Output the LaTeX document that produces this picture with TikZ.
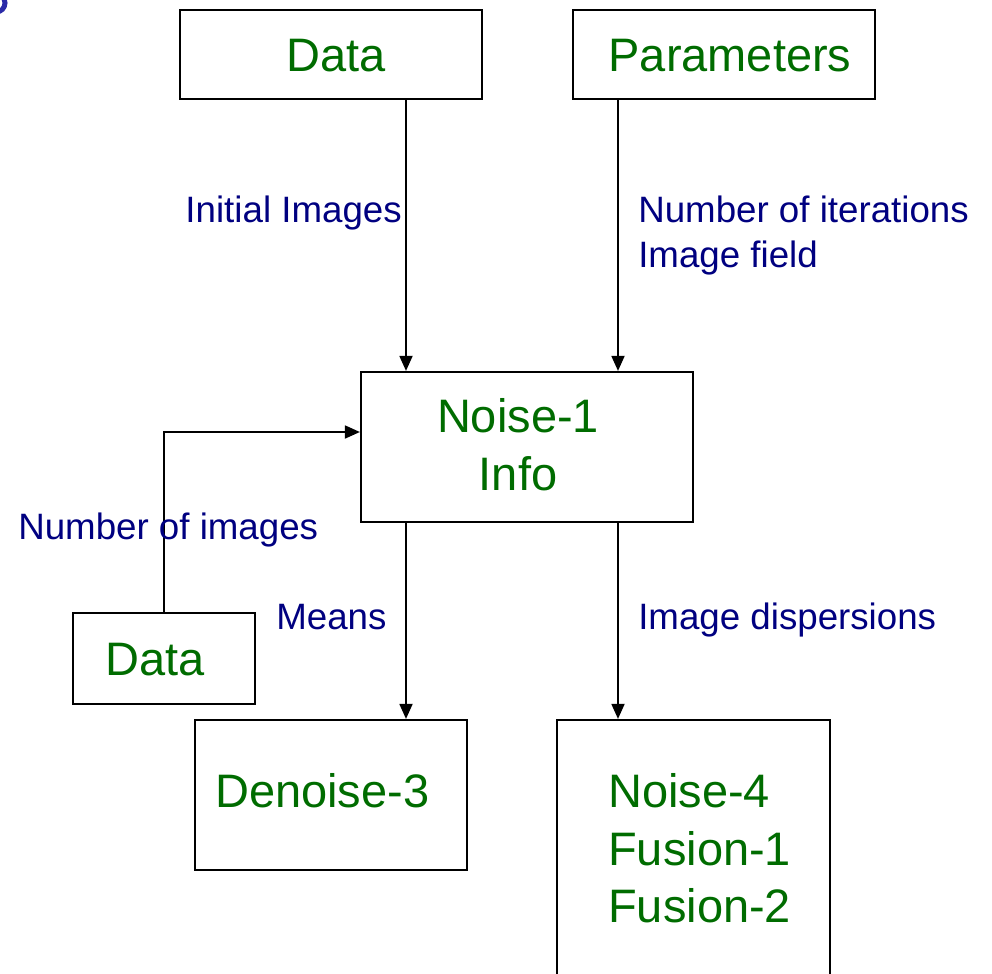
\documentclass[tikz,border=0pt]{standalone}
\usepackage{fontspec}
\setmainfont{Liberation Sans}
\usepackage{xcolor}
\usepackage{tikz}
\usetikzlibrary{arrows.meta}
\definecolor{leaf}{HTML}{006C00}
\definecolor{navy}{HTML}{000080}
\definecolor{ringblue}{HTML}{2B2BA8}
\newlength\pxu
\setlength\pxu{0.025cm}
\tikzset{
  box/.style={draw=black, line width=2.2\pxu, inner sep=0pt},
  gtext/.style={text=leaf, inner sep=0pt, font=\fontsize{33.4}{41}\selectfont},
  btext/.style={text=navy, inner sep=0pt, font=\fontsize{26.1}{32}\selectfont},
  arr/.style={-{Triangle[length=0.375cm, width=0.325cm]}, line width=1.8\pxu, black},
}
\begin{document}
\begin{tikzpicture}[x=0.025cm, y=-0.025cm]
\clip (0,0) rectangle (992,973);
\useasboundingbox (0,0) rectangle (992,973);
% clipped glyph in the corner
\draw[ringblue, line width=5\pxu] (-4,3) circle[radius=9];
% boxes
\node[box, minimum width=302\pxu, minimum height=89\pxu] (dataTop) at (331,54.5) {};
\node[box, minimum width=302\pxu, minimum height=89\pxu] (params) at (724,54.5) {};
\node[box, minimum width=332\pxu, minimum height=150\pxu] (noise) at (527,447) {};
\node[box, minimum width=182\pxu, minimum height=91\pxu] (dataLow) at (164,658.5) {};
\node[box, minimum width=272\pxu, minimum height=150\pxu] (denoise) at (331,795) {};
\node[box, minimum width=273\pxu, minimum height=256\pxu] (fusion) at (693.5,848) {};
% box texts
\node[gtext, anchor=base] (dataTopT) at (336,71) {Data};
\node[gtext, anchor=base] (paramsT) at (730,71) {Parameters};
\node[gtext, anchor=base] (noiseT) at (518,432) {Noise-1};
\node[gtext, anchor=base] (infoT) at (518,490) {Info};
\node[gtext, anchor=base] (dataLowT) at (155,675) {Data};
\node[gtext, anchor=base west] (denoiseT) at (215,807) {Denoise-3};
\node[gtext, anchor=base west] (fusionA) at (608,807) {Noise-4};
\node[gtext, anchor=base west] (fusionB) at (608,865) {Fusion-1};
\node[gtext, anchor=base west] (fusionC) at (608,922) {Fusion-2};
% connectors
\coordinate (xL) at (406,0);
\coordinate (xR) at (618,0);
\coordinate (bend) at (164,432);
\draw[arr] (dataTop.south -| xL) -- (noise.north -| xL);
\draw[arr] (params.south -| xR) -- (noise.north -| xR);
\draw[arr] (dataLow.north -| bend) |- (noise.west |- bend);
\draw[arr] (noise.south -| xL) -- (denoise.north -| xL);
\draw[arr] (noise.south -| xR) -- (fusion.north -| xR);
% connector labels
\node[btext, anchor=base east] (initLbl) at (402,222) {Initial Images};
\node[btext, anchor=base west] (iterLbl) at (638,222) {Number of iterations};
\node[btext, anchor=base west] (fieldLbl) at (638,267) {Image field};
\node[btext, anchor=base west] (countLbl) at (18,539) {Number of images};
\node[btext, anchor=base west] (meansLbl) at (276,629) {Means};
\node[btext, anchor=base west] (dispLbl) at (638,629) {Image dispersions};
\end{tikzpicture}
\end{document}
